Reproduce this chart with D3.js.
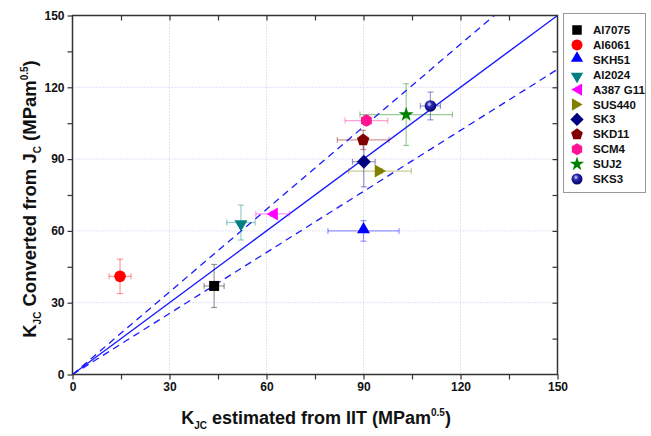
<!DOCTYPE html>
<html>
<head>
<meta charset="utf-8">
<title>KJC comparison</title>
<script src="https://d3js.org/d3.v7.min.js"></script>
<style>
  body { margin: 0; background: #fff; }
  text { font-family: "Liberation Sans", Arial, sans-serif; font-weight: bold; }
</style>
</head>
<body>
<svg width="651" height="436"></svg>
<script>
// materials, values
var materials = ["Al7075", "Al6061", "SKH51", "Al2024", "A387 G11", "SUS440", "SK3", "SKD11", "SCM4", "SUJ2", "SKS3"];
var kIIT      = [43.8, 14.7, 90.0, 52.1, 61.9, 95.1, 90.1, 89.9, 90.9, 103.2, 110.7];
var kJc       = [37.0, 41.0, 60.0, 63.5, 67.1, 85.0, 88.9, 98.0, 106.1, 108.6, 112.2];
var errIIT    = [3.1, 3.4, 11.0, 4.4, 5.2, 9.7, 3.5, 8.0, 6.6, 14.3, 3.1];
var errJc     = [9.0, 7.2, 4.3, 7.3, 1.0, 1.0, 10.5, 4.0, 2.0, 12.9, 5.8];
var ticks     = [0, 30, 60, 90, 120, 150];
var bandSlopes = [1.15, 0.85];

var colors  = ["#000000", "#ff0000", "#0000ff", "#008080", "#ff00ff", "#808000", "#000080", "#800000", "#ff1493", "#008000", "#000099"];
var shapes  = ["square", "circle", "triUp", "triDown", "triLeft", "triRight", "diamond", "pentagon", "hexagon", "star", "sphere"];

var svg = d3.select("svg");
var m = {left: 72.5, right: 557.5, top: 15.5, bottom: 374.5};

var x = d3.scaleLinear().domain([0, 150]).range([m.left, m.right]);
var y = d3.scaleLinear().domain([0, 150]).range([m.bottom, m.top]);

var defs = svg.append("defs");
var grad = defs.append("radialGradient").attr("id", "ball")
    .attr("cx", "40%").attr("cy", "35%").attr("r", "65%");
grad.append("stop").attr("offset", "0%").attr("stop-color", "#e0e0ff");
grad.append("stop").attr("offset", "35%").attr("stop-color", "#2a2ab0");
grad.append("stop").attr("offset", "100%").attr("stop-color", "#000066");
defs.append("clipPath").attr("id", "plot").append("rect")
    .attr("x", m.left).attr("y", m.top)
    .attr("width", m.right - m.left).attr("height", m.bottom - m.top);

// dotted grid
var gridVals = ticks.slice(1, -1);
svg.append("g").selectAll("line").data(gridVals).enter().append("line")
    .attr("x1", function(d) { return x(d); }).attr("x2", function(d) { return x(d); })
    .attr("y1", m.top).attr("y2", m.bottom)
    .attr("stroke", "#c4c4f4").attr("stroke-dasharray", "1,2");
svg.append("g").selectAll("line").data(gridVals).enter().append("line")
    .attr("y1", function(d) { return y(d); }).attr("y2", function(d) { return y(d); })
    .attr("x1", m.left).attr("x2", m.right)
    .attr("stroke", "#c4c4f4").attr("stroke-dasharray", "1,2");

// y = x and the +/-15% band
var lines = svg.append("g").attr("clip-path", "url(#plot)");
lines.append("line")
    .attr("x1", x(0)).attr("y1", y(0)).attr("x2", x(150)).attr("y2", y(150))
    .attr("stroke", "#1a1aff").attr("stroke-width", 1.3);
bandSlopes.forEach(function(s) {
  lines.append("line")
      .attr("x1", x(0)).attr("y1", y(0)).attr("x2", x(160)).attr("y2", y(160 * s))
      .attr("stroke", "#1a1aff").attr("stroke-width", 1.3)
      .attr("stroke-dasharray", "7,5");
});

// axes
var fmt = d3.format("d");
svg.append("g").attr("transform", "translate(0," + m.bottom + ")")
    .call(d3.axisBottom(x).tickValues(ticks).tickFormat(fmt).tickSize(5).tickPadding(3));
svg.append("g").attr("transform", "translate(0," + m.bottom + ")")
    .call(d3.axisBottom(x).tickValues(d3.range(15, 150, 30)).tickFormat("").tickSize(5));
svg.append("g").attr("transform", "translate(" + m.left + ",0)")
    .call(d3.axisLeft(y).tickValues(ticks).tickFormat(fmt).tickSize(5).tickPadding(3));
svg.append("g").attr("transform", "translate(" + m.left + ",0)")
    .call(d3.axisLeft(y).tickValues(d3.range(15, 150, 30)).tickFormat("").tickSize(5));
svg.append("g").attr("transform", "translate(0," + m.top + ")")
    .call(d3.axisBottom(x).tickValues(d3.range(15, 150, 15)).tickFormat("").tickSize(5));
svg.append("g").attr("transform", "translate(" + m.right + ",0)")
    .call(d3.axisLeft(y).tickValues(d3.range(15, 150, 15)).tickFormat("").tickSize(5));
svg.selectAll(".domain").remove();
svg.selectAll(".tick line").attr("stroke", "#333").attr("stroke-width", 1.2);
svg.selectAll(".tick text").attr("font-size", 12).attr("fill", "#111")
    .style("font-family", "'Liberation Sans', Arial, sans-serif").style("font-weight", "bold");
svg.append("rect").attr("x", m.left).attr("y", m.top)
    .attr("width", m.right - m.left).attr("height", m.bottom - m.top)
    .attr("fill", "none").attr("stroke", "#333").attr("stroke-width", 1.5);

// marker paths
function polygon(n, r, rot) {
  var pts = d3.range(n).map(function(i) {
    var a = rot + i * 2 * Math.PI / n;
    return [r * Math.sin(a), -r * Math.cos(a)];
  });
  return "M" + pts.join("L") + "Z";
}
function marker(sel, shape, color, k) {
  var g = sel.append("g");
  if (shape === "circle") g.append("circle").attr("r", 5.8 * k).attr("fill", color);
  else if (shape === "sphere") g.append("circle").attr("r", 5.8 * k).attr("fill", "url(#ball)");
  else if (shape === "square") g.append("rect").attr("x", -5 * k).attr("y", -5 * k)
      .attr("width", 10 * k).attr("height", 10 * k).attr("fill", color);
  else {
    var p;
    if (shape === "triUp") p = polygon(3, 7.5 * k, 0);
    else if (shape === "triDown") p = polygon(3, 7.5 * k, Math.PI);
    else if (shape === "triLeft") p = polygon(3, 7.5 * k, -Math.PI / 2);
    else if (shape === "triRight") p = polygon(3, 7.5 * k, Math.PI / 2);
    else if (shape === "diamond") p = polygon(4, 7 * k, 0);
    else if (shape === "pentagon") p = polygon(5, 6.5 * k, 0);
    else if (shape === "hexagon") p = polygon(6, 6.3 * k, 0);
    else if (shape === "star") p = d3.symbol().type(d3.symbolStar).size(70 * k * k)();
    var shift = shape === "triUp" ? -1.5 : shape === "triDown" ? 1.5 : 0;
    g.append("path").attr("d", p).attr("fill", color)
        .attr("transform", shape === "triLeft" ? "translate(1.5,0)" :
                           shape === "triRight" ? "translate(-1.5,0)" : "translate(0," + shift + ")");
  }
  return g;
}

// error bars then markers
var pts = svg.append("g");
materials.forEach(function(name, i) {
  var g = pts.append("g").attr("stroke", colors[i]).attr("stroke-opacity", 0.4).attr("stroke-width", 1.2);
  var cx = x(kIIT[i]), cy = y(kJc[i]);
  var x0 = x(kIIT[i] - errIIT[i]), x1 = x(kIIT[i] + errIIT[i]);
  var y0 = y(kJc[i] - errJc[i]), y1 = y(kJc[i] + errJc[i]);
  g.append("line").attr("x1", x0).attr("x2", x1).attr("y1", cy).attr("y2", cy);
  g.append("line").attr("x1", cx).attr("x2", cx).attr("y1", y0).attr("y2", y1);
  [x0, x1].forEach(function(v) {
    g.append("line").attr("x1", v).attr("x2", v).attr("y1", cy - 3).attr("y2", cy + 3);
  });
  [y0, y1].forEach(function(v) {
    g.append("line").attr("y1", v).attr("y2", v).attr("x1", cx - 3).attr("x2", cx + 3);
  });
});
materials.forEach(function(name, i) {
  marker(pts, shapes[i], colors[i], 1)
      .attr("transform", "translate(" + x(kIIT[i]) + "," + y(kJc[i]) + ")");
});

// legend
var lg = svg.append("g");
lg.append("rect").attr("x", 563.5).attr("y", 13.5).attr("width", 82).attr("height", 179)
    .attr("fill", "#fff").attr("stroke", "#999").attr("stroke-width", 1);
materials.forEach(function(name, i) {
  var ly = 30 + i * 14.9;
  marker(lg, shapes[i], colors[i], 0.95).attr("transform", "translate(577," + ly + ")");
  lg.append("text").attr("x", 593).attr("y", ly + 4).attr("font-size", 11.5)
      .attr("fill", "#111").text(name);
});

// axis titles
var xt = svg.append("text").attr("x", 316).attr("y", 424).attr("text-anchor", "middle")
    .attr("font-size", 18).attr("fill", "#111");
xt.append("tspan").text("K");
xt.append("tspan").attr("font-size", 10).attr("dy", 5).text("JC");
xt.append("tspan").attr("dy", -5).text(" estimated from IIT (MPam");
xt.append("tspan").attr("font-size", 10).attr("dy", -8).text("0.5");
xt.append("tspan").attr("dy", 8).text(")");

var yt = svg.append("text").attr("transform", "translate(36,199) rotate(-90)")
    .attr("text-anchor", "middle").attr("font-size", 18.5).attr("fill", "#111");
yt.append("tspan").text("K");
yt.append("tspan").attr("font-size", 10).attr("dy", 5).text("JC");
yt.append("tspan").attr("dy", -5).text(" Converted from J");
yt.append("tspan").attr("font-size", 10).attr("dy", 5).text("C");
yt.append("tspan").attr("dy", -5).text(" (MPam");
yt.append("tspan").attr("font-size", 10).attr("dy", -8).text("0.5");
yt.append("tspan").attr("dy", 8).text(")");
</script>
</body>
</html>
